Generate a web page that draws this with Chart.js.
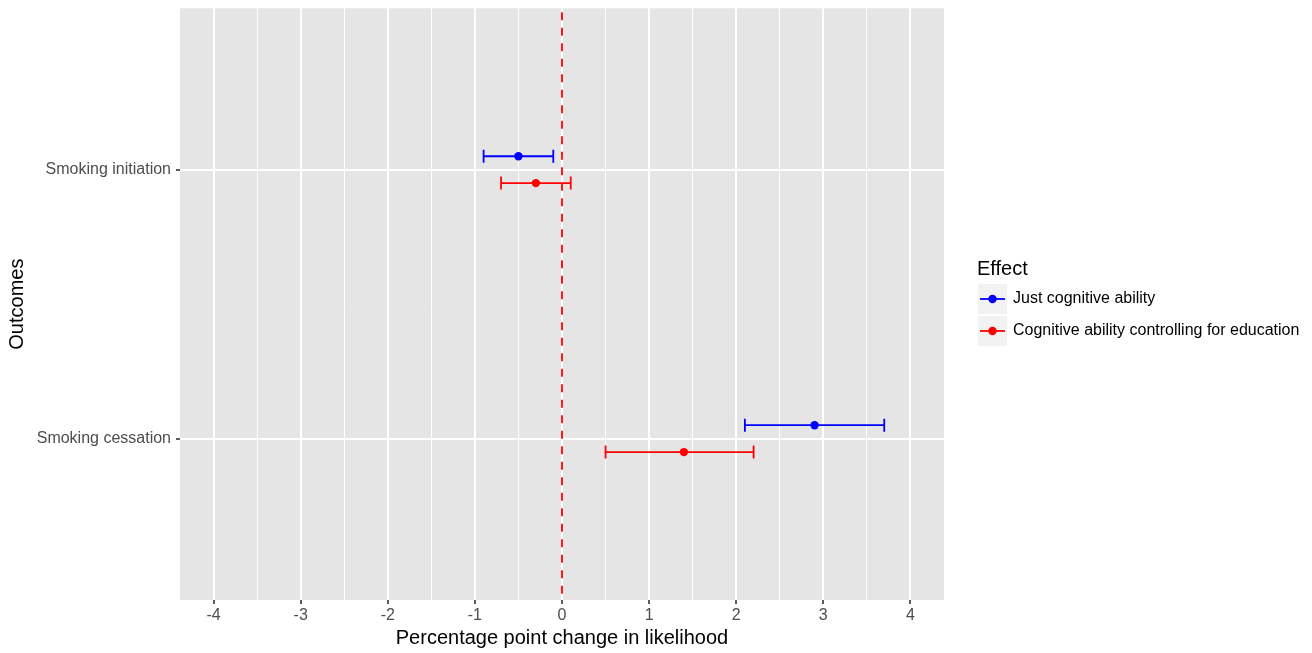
<!DOCTYPE html>
<html>
<head>
<meta charset="utf-8">
<script src="https://cdn.jsdelivr.net/npm/chart.js@4"></script>
<style>
  html, body { margin: 0; padding: 0; background: #fff; }
  #wrap { width: 1312px; height: 653px; }
</style>
</head>
<body>
<div id="wrap"><canvas id="myChart"></canvas></div>
<script>
// categories, top to bottom
var outcomes = ["Smoking initiation", "Smoking cessation"];
var effects = ["Just cognitive ability", "Cognitive ability controlling for education"];
var colors = ["#0000FF", "#FF0000"];

// estimates and intervals, one value per outcome
var justEst = [-0.5, 2.9];
var justLow = [-0.9, 2.1];
var justHigh = [-0.1, 3.7];
var eduEst = [-0.3, 1.4];
var eduLow = [-0.7, 0.5];
var eduHigh = [0.1, 2.2];

var xTickLabels = [-4, -3, -2, -1, 0, 1, 2, 3, 4];
var dodge = [-0.05, 0.05];

var FONT = "'Liberation Sans', Arial, Helvetica, sans-serif";

var series = [
    { est: justEst, low: justLow, high: justHigh },
    { est: eduEst, low: eduLow, high: eduHigh }
];

var datasets = [];
// points on top
series.forEach(function (s, k) {
    datasets.push({
        label: effects[k],
        data: outcomes.map(function (o, i) { return { x: s.est[i], y: i + dodge[k] }; }),
        showLine: false,
        pointRadius: 4.2,
        pointBackgroundColor: colors[k],
        pointBorderWidth: 0
    });
});
// error bars with caps
series.forEach(function (s, k) {
    outcomes.forEach(function (o, i) {
        datasets.push({
            label: effects[k] + " CI",
            data: [{ x: s.low[i], y: i + dodge[k] }, { x: s.high[i], y: i + dodge[k] }],
            showLine: true,
            borderColor: colors[k],
            borderWidth: 1.8,
            pointStyle: 'line',
            pointRotation: 90,
            pointRadius: 6.5,
            pointBorderColor: colors[k],
            pointBorderWidth: 1.8
        });
    });
});
// reference line at zero
datasets.push({
    label: "zero",
    data: [{ x: 0, y: -0.6 }, { x: 0, y: 1.6 }],
    showLine: true,
    borderColor: "#FF0000",
    borderWidth: 1.8,
    borderDash: [8, 7.5],
    borderDashOffset: -4,
    pointRadius: 0
});

var panelBg = {
    id: 'panelBg',
    beforeDraw: function (chart) {
        var a = chart.chartArea, c = chart.ctx;
        c.save();
        c.fillStyle = "#E5E5E5";
        c.fillRect(a.left, a.top, a.right - a.left, a.bottom - a.top);
        c.restore();
    }
};

var sideLegend = {
    id: 'sideLegend',
    afterDraw: function (chart) {
        var c = chart.ctx;
        var x0 = 978, y0 = 284, size = 30, gap = 2;
        c.save();
        c.fillStyle = "#000";
        c.font = "20px " + FONT;
        c.textBaseline = "middle";
        c.textAlign = "left";
        c.fillText("Effect", 977, 269);
        effects.forEach(function (e, k) {
            var y = y0 + k * (size + gap);
            c.fillStyle = "#F2F2F2";
            c.fillRect(x0, y, size - 1, size);
            var cy = y + size / 2;
            c.strokeStyle = colors[k];
            c.lineWidth = 1.8;
            c.beginPath();
            c.moveTo(x0 + 2, cy);
            c.lineTo(x0 + size - 3, cy);
            c.stroke();
            c.fillStyle = colors[k];
            c.beginPath();
            c.arc(x0 + (size - 1) / 2, cy, 4.2, 0, Math.PI * 2);
            c.fill();
            c.fillStyle = "#000";
            c.font = "16px " + FONT;
            c.fillText(e, 1013, cy);
        });
        c.restore();
    }
};

var ctx = document.getElementById('myChart').getContext('2d');
var chart = new Chart(ctx, {
    type: 'scatter',
    data: { datasets: datasets },
    plugins: [panelBg, sideLegend],
    options: {
        responsive: true,
        maintainAspectRatio: false,
        animation: false,
        layout: { padding: { top: 8, right: 368, left: 0, bottom: 0 } },
        plugins: {
            legend: { display: false },
            tooltip: { enabled: false }
        },
        scales: {
            x: {
                type: 'linear',
                min: -4.386,
                max: 4.386,
                afterBuildTicks: function (scale) {
                    var t = [];
                    xTickLabels.forEach(function (v, i) {
                        t.push({ value: v });
                        if (i < xTickLabels.length - 1) t.push({ value: v + 0.5 });
                    });
                    scale.ticks = t;
                },
                afterFit: function (scale) {
                    scale.height = 53;
                    scale.paddingLeft = 0;
                    scale.paddingRight = 0;
                },
                border: { display: false },
                grid: {
                    color: "#FFFFFF",
                    lineWidth: function (c) { return Number.isInteger(c.tick && c.tick.value) ? 2 : 1; },
                    tickColor: function (c) { return Number.isInteger(c.tick && c.tick.value) ? "#333333" : "rgba(0,0,0,0)"; },
                    tickWidth: 1.6,
                    tickLength: 4
                },
                ticks: {
                    autoSkip: false,
                    maxRotation: 0,
                    padding: 2,
                    color: "#4D4D4D",
                    font: { family: FONT, size: 16 },
                    callback: function (v) { return Number.isInteger(v) ? String(v) : ''; }
                },
                title: {
                    display: true,
                    text: "Percentage point change in likelihood",
                    color: "#000",
                    font: { family: FONT, size: 20 },
                    padding: { top: 0, bottom: 3 }
                }
            },
            y: {
                type: 'linear',
                reverse: true,
                min: -0.6,
                max: 1.6,
                afterBuildTicks: function (scale) {
                    scale.ticks = outcomes.map(function (o, i) { return { value: i }; });
                },
                afterFit: function (scale) {
                    scale.width = 180;
                    scale.paddingTop = 0;
                    scale.paddingBottom = 0;
                },
                border: { display: false },
                grid: {
                    color: "#FFFFFF",
                    lineWidth: 2,
                    tickColor: "#333333",
                    tickWidth: 1.6,
                    tickLength: 4
                },
                ticks: {
                    autoSkip: false,
                    padding: 5,
                    color: "#4D4D4D",
                    font: { family: FONT, size: 16 },
                    callback: function (v) { return outcomes[v] || ''; }
                },
                title: {
                    display: true,
                    text: "Outcomes",
                    color: "#000",
                    font: { family: FONT, size: 20 },
                    padding: { top: 5, bottom: 0 }
                }
            }
        }
    }
});
</script>
</body>
</html>
